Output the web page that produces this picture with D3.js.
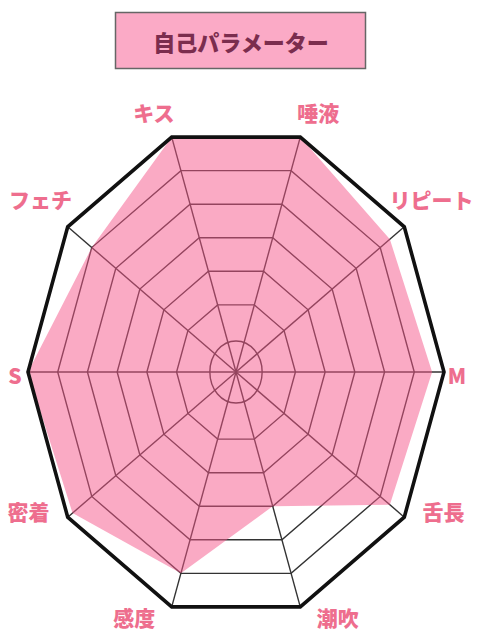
<!DOCTYPE html>
<html>
<head>
<meta charset="utf-8">
<script src="https://cdn.jsdelivr.net/npm/d3@7"></script>
<style>
  html, body { margin: 0; padding: 0; background: #fff; }
  svg { display: block; }
  text { font-family: "Noto Sans CJK JP", "Noto Sans", sans-serif; font-weight: 900; }
</style>
</head>
<body>
<svg id="chart"></svg>
<script>
const title = "自己パラメーター";
const axes = ["キス", "唾液", "リピート", "M", "舌長", "潮吹", "感度", "密着", "S", "フェチ"];
const values = [7, 7, 6.4, 6.6, 6.4, 4, 6, 6.8, 7, 6];
const levels = [1, 2, 3, 4, 5, 6, 7];

const width = 480, height = 640;
const cx = 236, cy = 372;
const maxLevel = d3.max(levels);

const svg = d3.select("#chart")
  .attr("width", width)
  .attr("height", height);

// radial scales (the chart is a bit taller than wide)
const rx = d3.scaleLinear().domain([0, maxLevel]).range([0, 208]);
const ry = d3.scaleLinear().domain([0, maxLevel]).range([0, 247]);
const angle = d3.scaleLinear().domain([0, axes.length]).range([-Math.PI / 10, 2 * Math.PI - Math.PI / 10]);

const pt = (i, v) => [cx + rx(v) * Math.sin(angle(i)), cy - ry(v) * Math.cos(angle(i))];
const ring = v => axes.map((a, i) => pt(i, v));
const line = d3.line().curve(d3.curveLinearClosed);

// title box
const tb = svg.append("g");
tb.append("rect")
  .attr("x", 115.5).attr("y", 12.5)
  .attr("width", 250).attr("height", 56)
  .attr("fill", "#fbaac6")
  .attr("stroke", "#666")
  .attr("stroke-width", 1.5);
tb.append("text")
  .attr("x", 241).attr("y", 41)
  .attr("text-anchor", "middle")
  .attr("dominant-baseline", "central")
  .attr("font-size", 22)
  .attr("fill", "#7b2d4e")
  .text(title);

const g = svg.append("g");

// inner grid rings
g.selectAll(".ring")
  .data(levels.filter(l => l > 1 && l < maxLevel))
  .enter().append("path")
  .attr("class", "ring")
  .attr("d", d => line(ring(d)))
  .attr("fill", "none")
  .attr("stroke", "#333")
  .attr("stroke-width", 1.4);

// innermost level drawn as ellipse
g.append("ellipse")
  .attr("cx", cx).attr("cy", cy)
  .attr("rx", rx(levels[0]) * 0.88)
  .attr("ry", ry(levels[0]) * 0.88)
  .attr("fill", "none")
  .attr("stroke", "#333")
  .attr("stroke-width", 1.4);

// spokes
g.selectAll(".spoke")
  .data(axes)
  .enter().append("line")
  .attr("class", "spoke")
  .attr("x1", cx).attr("y1", cy)
  .attr("x2", (d, i) => pt(i, maxLevel)[0])
  .attr("y2", (d, i) => pt(i, maxLevel)[1])
  .attr("stroke", "#333")
  .attr("stroke-width", 1.4);

// value area
g.append("path")
  .datum(values)
  .attr("d", d => line(d.map((v, i) => pt(i, v))))
  .attr("fill", "#f5558a")
  .attr("fill-opacity", 0.5);

// outer frame
g.append("path")
  .attr("d", line(ring(maxLevel)))
  .attr("fill", "none")
  .attr("stroke", "#111")
  .attr("stroke-width", 3.6)
  .attr("stroke-linejoin", "miter");

// axis labels, pushed out from each corner
const labelPos = i => {
  const ux = Math.sin(angle(i)), uy = -Math.cos(angle(i));
  const ax = Math.abs(ux);
  const dx = -18 + 408 * ax - 169 * ux * ux + 10.3 * uy;
  const dy = 265 * uy + 5.7 - 44 * Math.abs(ux * uy) - 2.7 * ux * ux;
  return [cx + Math.sign(ux) * dx, cy + dy];
};

g.selectAll(".label")
  .data(axes)
  .enter().append("text")
  .attr("class", "label")
  .attr("x", (d, i) => labelPos(i)[0])
  .attr("y", (d, i) => labelPos(i)[1])
  .attr("text-anchor", "middle")
  .attr("dominant-baseline", "central")
  .attr("font-size", 21)
  .attr("fill", "#ee6e8e")
  .text(d => d);
</script>
</body>
</html>
